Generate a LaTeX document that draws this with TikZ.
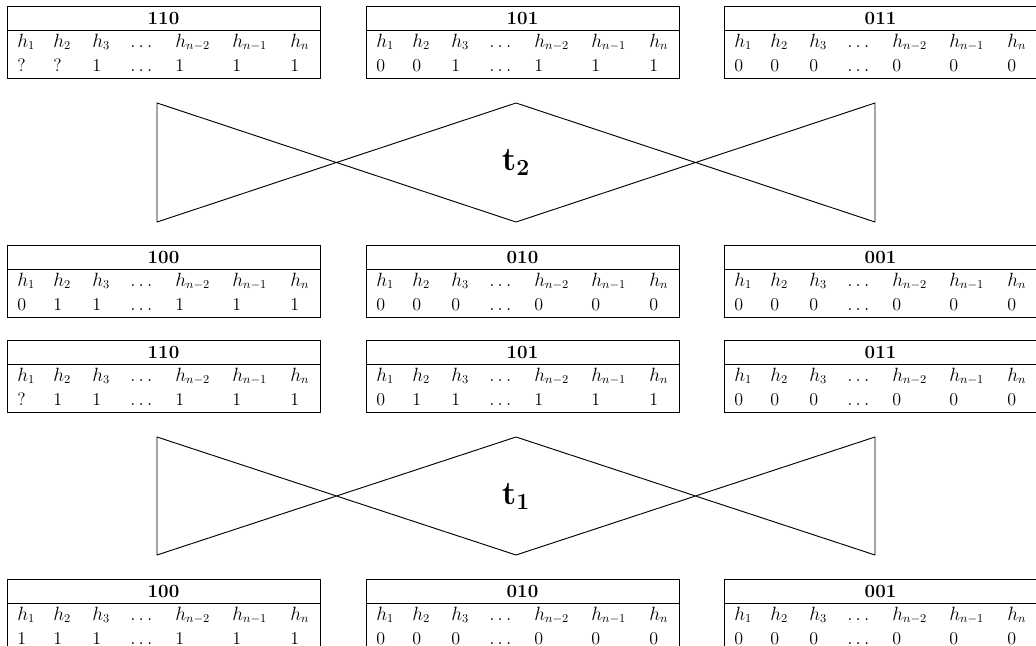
\documentclass[tikz,border=0pt]{standalone}
\tikzset{
  tbox/.style={draw, line width=0.6pt},
  hdr/.style={font=\fontsize{14}{16}\selectfont\bfseries, anchor=center, inner sep=0pt},
  cell/.style={font=\fontsize{13.5}{16}\selectfont, anchor=base west, inner sep=0pt},
  tie/.style={draw, line width=0.7pt, line join=miter},
  tlabel/.style={font=\fontsize{26}{30}\selectfont, inner sep=0pt},
}
% #1 name, #2 x, #3 y, #4 title, #5 values
\newcommand\htab[5]{%
  \draw[tbox] (#2,#3) rectangle (#2+313,#3+72);
  \draw[tbox] (#2,#3+24) -- (#2+313,#3+24);
  \node[hdr] (#1) at (#2+156.5,#3+12) {#4};
  \foreach \lab [count=\i] in {{$h_1$},{$h_2$},{$h_3$},{$\dots$},{$h_{n-2}$},{$h_{n-1}$},{$h_n$}}{%
    \pgfmathsetmacro\off{{10,46,85,123,168,225,283}[\i-1]}
    \node[cell] (#1-h\i) at (#2+\off,#3+41) {\lab};
  }
  \foreach \val [count=\i] in {#5}{%
    \pgfmathsetmacro\off{{10,46,85,123,168,225,283}[\i-1]}
    \node[cell] (#1-v\i) at (#2+\off,#3+65) {\val};
  }
}
% #1 top y, #2 bottom y, #3 name, #4 label
\newcommand\mytie[4]{%
  \draw[tie] (157,#1) -- (516,#2) -- (875,#1) -- (875,#2) -- (516,#1) -- (157,#2) -- cycle;
  \node[tlabel] (#3) at (516,{(#1+#2)/2}) {#4};
}
\begin{document}
\begin{tikzpicture}[x=0.75pt,y=-0.75pt]
\useasboundingbox (0,0) rectangle (1036,646);
% row 1
\htab{a1}{7}{6}{110}{?,?,1,$\dots$,1,1,1}
\htab{a2}{366}{6}{101}{0,0,1,$\dots$,1,1,1}
\htab{a3}{724}{6}{011}{0,0,0,$\dots$,0,0,0}
\mytie{103}{222}{t2}{$\mathbf{t_2}$}
% row 2
\htab{b1}{7}{245}{100}{0,1,1,$\dots$,1,1,1}
\htab{b2}{366}{245}{010}{0,0,0,$\dots$,0,0,0}
\htab{b3}{724}{245}{001}{0,0,0,$\dots$,0,0,0}
% row 3
\htab{c1}{7}{340}{110}{?,1,1,$\dots$,1,1,1}
\htab{c2}{366}{340}{101}{0,1,1,$\dots$,1,1,1}
\htab{c3}{724}{340}{011}{0,0,0,$\dots$,0,0,0}
\mytie{437}{555}{t1}{$\mathbf{t_1}$}
% row 4
\htab{d1}{7}{579}{100}{1,1,1,$\dots$,1,1,1}
\htab{d2}{366}{579}{010}{0,0,0,$\dots$,0,0,0}
\htab{d3}{724}{579}{001}{0,0,0,$\dots$,0,0,0}
\end{tikzpicture}
\end{document}
